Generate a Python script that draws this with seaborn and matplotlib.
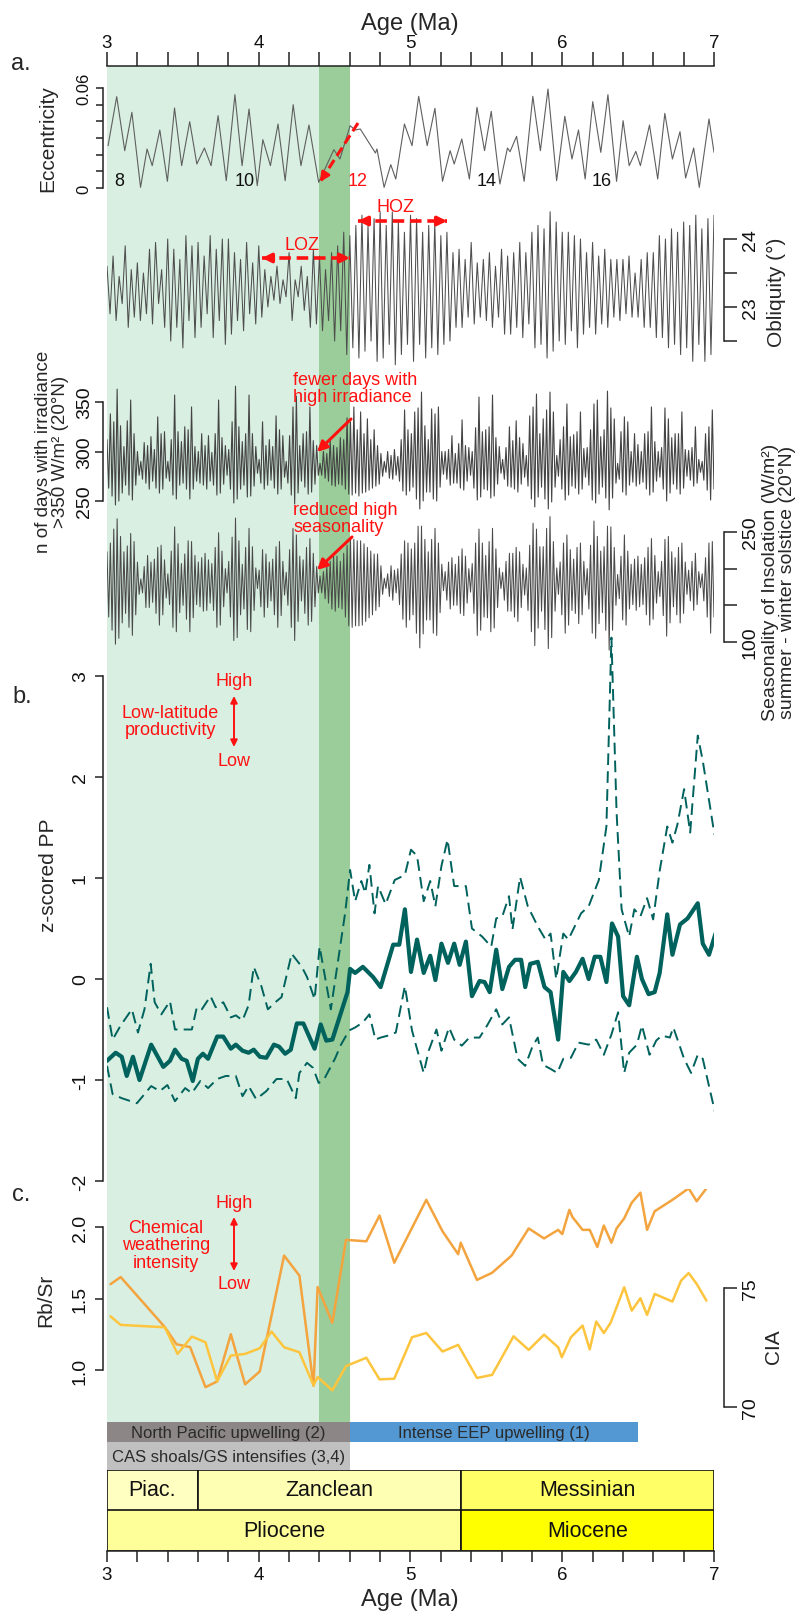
import numpy as np
import pandas as pd
import seaborn as sns
import matplotlib.pyplot as plt
from matplotlib.lines import Line2D
from matplotlib.patches import FancyArrowPatch

# ---------------- data ----------------
# eccentricity (turning points), age in Ma
ecc_age = [3.007, 3.064, 3.117, 3.164, 3.221, 3.264, 3.298, 3.348, 3.398, 3.445, 3.492, 3.545, 3.592, 3.642,
           3.686, 3.732, 3.786, 3.843, 3.890, 3.936, 3.990, 4.027, 4.077, 4.127, 4.174, 4.227, 4.278, 4.331,
           4.395, 4.495, 4.535, 4.602, 4.635, 4.669, 4.769, 4.779, 4.826, 4.870, 4.903, 4.960, 5.010, 5.054,
           5.110, 5.161, 5.211, 5.261, 5.288, 5.338, 5.388, 5.438, 5.488, 5.532, 5.589, 5.639, 5.656, 5.699,
           5.749, 5.806, 5.856, 5.906, 5.963, 6.017, 6.064, 6.107, 6.151, 6.201, 6.254, 6.301, 6.358, 6.401,
           6.441, 6.485, 6.515, 6.575, 6.629, 6.676, 6.726, 6.776, 6.813, 6.866, 6.903, 6.967, 7.000]
ecc_val = [0.0254, 0.0548, 0.0224, 0.0454, 0.0004, 0.0234, 0.0134, 0.0348, 0.0040, 0.0480, 0.0134, 0.0398,
           0.0144, 0.0240, 0.0134, 0.0434, 0.0044, 0.0560, 0.0134, 0.0474, 0.0014, 0.0290, 0.0134, 0.0384,
           0.0044, 0.0500, 0.0134, 0.0378, 0.0034, 0.0230, 0.0174, 0.0374, 0.0348, 0.0354, 0.0210, 0.0234,
           0.0004, 0.0140, 0.0054, 0.0384, 0.0254, 0.0550, 0.0254, 0.0478, 0.0040, 0.0224, 0.0144, 0.0294,
           0.0054, 0.0484, 0.0224, 0.0460, 0.0024, 0.0240, 0.0218, 0.0310, 0.0040, 0.0550, 0.0224, 0.0594,
           0.0044, 0.0430, 0.0174, 0.0348, 0.0054, 0.0518, 0.0214, 0.0560, 0.0040, 0.0404, 0.0134, 0.0220,
           0.0134, 0.0378, 0.0054, 0.0448, 0.0174, 0.0338, 0.0060, 0.0240, 0.0004, 0.0414, 0.0214]
ecc_cycle_age = [3.08, 3.91, 4.65, 5.50, 6.26]
ecc_cycle_lbl = ['8', '10', '12', '14', '16']

# obliquity (deg), peaks and troughs evenly spread from 3 to 7 Ma
obl_val = [23.6, 22.9, 23.75, 22.8, 23.45, 23.05, 23.9, 22.7, 23.55, 22.85,
           23.65, 22.8, 23.5, 22.9, 23.85, 22.75, 23.95, 23.05, 23.55, 22.7,
           24.0, 22.5, 23.85, 22.7, 23.7, 22.4, 24.05, 22.8, 23.9, 22.55,
           23.95, 22.7, 23.75, 22.9, 24.05, 22.55, 23.85, 22.8, 24.0, 22.45,
           24.0, 22.6, 23.8, 22.8, 23.7, 22.65, 23.95, 22.9, 23.65, 22.75,
           23.9, 22.85, 23.55, 23.0, 23.45, 23.1, 23.6, 23.05, 23.4, 23.15,
           23.8, 22.8, 23.4, 23.15, 23.6, 22.95, 23.45, 22.7, 23.85, 22.75,
           23.75, 22.65, 23.55, 22.8, 23.8, 22.5, 23.9, 22.65, 24.1, 22.3,
           24.05, 22.4, 24.2, 22.25, 24.35, 22.35, 24.2, 22.5, 24.3, 22.2,
           24.4, 22.25, 24.2, 22.45, 24.4, 22.15, 24.25, 22.3, 24.1, 22.45,
           24.35, 22.2, 24.3, 22.45, 24.1, 22.25, 24.2, 22.4, 24.25, 22.3,
           24.05, 22.45, 24.1, 22.5, 23.8, 22.7, 23.85, 22.7, 23.7, 22.85,
           23.95, 22.75, 23.65, 22.85, 23.7, 22.8, 23.8, 22.7, 23.6, 22.85,
           23.85, 22.6, 23.75, 22.6, 23.8, 22.7, 23.95, 22.55, 23.8, 22.75,
           24.1, 22.4, 24.2, 22.45, 24.15, 22.25, 24.4, 22.35, 24.25, 22.5,
           24.1, 22.45, 24.1, 22.65, 24.05, 22.4, 24.0, 22.6, 23.8, 22.7,
           23.95, 22.6, 23.75, 22.75, 23.85, 22.7, 23.7, 22.85, 23.7, 22.8,
           23.7, 22.9, 23.75, 22.85, 23.5, 22.85, 23.7, 22.7, 23.8, 22.7,
           23.8, 22.55, 24.05, 22.55, 24.0, 22.4, 24.15, 22.45, 24.1, 22.3,
           24.25, 22.4, 24.2, 22.2, 24.35, 22.45, 24.15, 22.2, 24.3, 22.3,
           24.35]

# n of days with irradiance > 350 W/m2 (20N), peaks/troughs evenly spread 3 -> 7 Ma
irr_val = [312, 263, 338, 255, 330, 246, 363, 250, 326, 258, 305, 266, 331, 256, 352, 251, 318, 266,
           300, 276, 290, 272, 309, 268, 306, 262, 315, 270, 302, 263, 335, 258, 318, 262, 320, 273,
           290, 270, 312, 256, 357, 252, 320, 266, 310, 268, 325, 262, 322, 252, 345, 262, 305, 270,
           300, 268, 318, 266, 306, 262, 316, 270, 299, 266, 318, 256, 352, 258, 314, 267, 306, 276,
           302, 262, 330, 248, 366, 252, 325, 262, 310, 266, 318, 254, 357, 255, 318, 265, 305, 278,
           292, 268, 330, 262, 306, 266, 312, 271, 305, 263, 336, 257, 322, 262, 316, 274, 290, 268,
           316, 256, 345, 247, 356, 258, 306, 270, 318, 264, 320, 257, 345, 259, 311, 267, 306, 276,
           288, 276, 300, 273, 298, 270, 312, 266, 306, 265, 304, 267, 314, 266, 312, 262, 334, 257,
           330, 256, 345, 258, 322, 255, 340, 258, 318, 259, 333, 261, 312, 263, 322, 265, 306, 267,
           298, 275, 290, 279, 300, 273, 296, 272, 302, 276, 295, 270, 312, 260, 342, 256, 322, 260,
           318, 264, 340, 252, 344, 242, 360, 250, 326, 259, 312, 259, 343, 252, 338, 250, 345, 264,
           300, 277, 300, 272, 302, 266, 316, 268, 298, 268, 308, 263, 332, 261, 306, 270, 304, 276,
           300, 263, 324, 251, 355, 254, 320, 262, 322, 261, 325, 253, 357, 255, 314, 267, 305, 278,
           292, 272, 304, 265, 325, 264, 311, 262, 331, 259, 314, 267, 308, 274, 296, 265, 336, 252,
           345, 244, 358, 254, 318, 264, 333, 252, 342, 242, 360, 249, 340, 264, 296, 275, 312, 262,
           325, 251, 348, 256, 315, 265, 317, 263, 320, 257, 340, 262, 303, 274, 304, 266, 322, 251,
           348, 248, 352, 257, 315, 264, 322, 253, 361, 241, 344, 253, 333, 268, 288, 272, 320, 259,
           335, 256, 330, 266, 300, 269, 318, 265, 307, 267, 300, 269, 318, 262, 320, 256, 345, 259,
           310, 270, 300, 274, 304, 262, 344, 250, 333, 258, 314, 267, 318, 262, 318, 257, 340, 263,
           302, 275, 301, 271, 304, 265, 325, 268, 292, 279, 290, 271, 318, 261, 325, 251, 342, 262]

# seasonality of insolation, summer - winter solstice (W/m2, 20N)
seas_val = [223, 134, 235, 116, 254, 97, 268, 105, 244, 126, 223, 139, 231, 120, 248, 109, 237, 137,
            209, 165, 186, 167, 203, 147, 218, 147, 209, 154, 213, 139, 229, 123, 232, 137, 212, 160,
            193, 151, 224, 120, 257, 114, 234, 140, 207, 150, 220, 131, 238, 114, 237, 133, 218, 151,
            209, 148, 215, 142, 221, 143, 212, 153, 207, 143, 229, 120, 249, 123, 224, 148, 200, 167,
            210, 134, 243, 102, 269, 106, 238, 137, 206, 145, 229, 117, 255, 114, 230, 143, 201, 173,
            198, 148, 226, 134, 220, 147, 209, 156, 213, 137, 230, 120, 237, 136, 210, 164, 195, 150,
            226, 120, 255, 102, 246, 128, 217, 156, 212, 139, 229, 123, 241, 128, 221, 148, 203, 167,
            190, 167, 196, 159, 204, 153, 210, 145, 218, 142, 217, 147, 210, 145, 221, 134, 232, 122,
            241, 120, 240, 122, 238, 122, 238, 123, 234, 128, 229, 133, 224, 137, 220, 143, 220, 148,
            204, 165, 187, 173, 193, 162, 204, 157, 198, 167, 200, 151, 220, 131, 238, 120, 235, 130,
            227, 137, 235, 112, 258, 92, 258, 111, 240, 130, 223, 130, 240, 112, 255, 109, 235, 140,
            206, 170, 196, 157, 209, 145, 215, 150, 206, 150, 217, 139, 227, 136, 217, 153, 200, 168,
            207, 139, 235, 109, 254, 116, 235, 134, 218, 133, 237, 114, 255, 119, 227, 147, 201, 173,
            195, 157, 210, 142, 221, 142, 221, 134, 229, 128, 223, 147, 206, 164, 201, 143, 232, 114,
            262, 95, 254, 119, 230, 142, 230, 117, 255, 91, 271, 106, 237, 142, 201, 165, 209, 137,
            235, 112, 246, 123, 226, 143, 213, 139, 229, 125, 235, 137, 210, 164, 200, 145, 232, 112,
            265, 105, 244, 125, 224, 140, 230, 116, 258, 89, 257, 116, 229, 150, 192, 159, 217, 130,
            246, 123, 224, 145, 206, 151, 213, 143, 217, 148, 206, 151, 215, 137, 229, 123, 241, 131,
            218, 153, 196, 162, 210, 136, 240, 108, 244, 126, 223, 148, 215, 137, 229, 126, 235, 139,
            209, 165, 198, 156, 210, 143, 221, 151, 196, 174, 193, 156, 215, 134, 235, 112, 237, 134]

# z-scored productivity: median and envelope
pp_age = [3.000, 3.057, 3.097, 3.130, 3.171, 3.214, 3.291, 3.371, 3.415, 3.448, 3.492, 3.525, 3.565, 3.599,
          3.632, 3.666, 3.726, 3.766, 3.816, 3.849, 3.893, 3.933, 3.967, 4.007, 4.050, 4.100, 4.134, 4.174,
          4.211, 4.251, 4.294, 4.368, 4.408, 4.445, 4.485, 4.585, 4.602, 4.635, 4.686, 4.753, 4.803, 4.886,
          4.926, 4.963, 5.003, 5.043, 5.087, 5.130, 5.164, 5.204, 5.247, 5.288, 5.324, 5.365, 5.405, 5.455,
          5.488, 5.522, 5.565, 5.605, 5.649, 5.689, 5.729, 5.756, 5.789, 5.839, 5.883, 5.923, 5.973, 6.007,
          6.047, 6.090, 6.134, 6.174, 6.214, 6.251, 6.291, 6.328, 6.368, 6.401, 6.441, 6.492, 6.525, 6.569,
          6.609, 6.642, 6.692, 6.726, 6.776, 6.826, 6.893, 6.926, 6.967, 7.010]
pp_mid = [-0.81, -0.73, -0.77, -0.96, -0.77, -1.00, -0.65, -0.87, -0.81, -0.70, -0.79, -0.81, -1.01, -0.79,
          -0.74, -0.79, -0.57, -0.57, -0.69, -0.65, -0.71, -0.73, -0.70, -0.77, -0.78, -0.65, -0.67, -0.74,
          -0.70, -0.44, -0.44, -0.69, -0.45, -0.61, -0.60, -0.13, 0.10, 0.06, 0.12, 0.02, -0.08, 0.34,
          0.34, 0.69, 0.07, 0.39, 0.06, 0.23, -0.01, 0.35, 0.16, 0.35, 0.14, 0.37, -0.17, -0.02,
          -0.03, -0.13, 0.29, -0.10, 0.12, 0.19, 0.19, -0.08, 0.15, 0.17, -0.08, -0.13, -0.60, 0.07,
          -0.02, 0.07, 0.20, 0.00, 0.22, 0.22, -0.03, 0.55, 0.42, -0.17, -0.26, 0.22, 0.00, -0.15,
          -0.13, 0.06, 0.64, 0.24, 0.54, 0.60, 0.75, 0.35, 0.24, 0.45]
pp_hi_age = [3.000, 3.037, 3.090, 3.164, 3.204, 3.247, 3.288, 3.314, 3.358, 3.415, 3.448, 3.559, 3.592, 3.625,
             3.682, 3.716, 3.766, 3.816, 3.849, 3.893, 3.933, 3.967, 4.017, 4.060, 4.117, 4.150, 4.217, 4.284,
             4.318, 4.368, 4.401, 4.475, 4.569, 4.602, 4.635, 4.676, 4.702, 4.729, 4.763, 4.786, 4.836, 4.896,
             4.963, 5.003, 5.043, 5.087, 5.130, 5.164, 5.204, 5.244, 5.288, 5.365, 5.405, 5.472, 5.532, 5.565,
             5.605, 5.649, 5.672, 5.722, 5.773, 5.839, 5.890, 5.923, 5.960, 6.007, 6.040, 6.124, 6.174, 6.241,
             6.291, 6.324, 6.358, 6.391, 6.441, 6.475, 6.515, 6.559, 6.599, 6.642, 6.692, 6.726, 6.759, 6.803,
             6.843, 6.893, 6.926, 7.003]
pp_hi = [-0.28, -0.60, -0.46, -0.30, -0.53, -0.30, 0.15, -0.23, -0.35, -0.22, -0.50, -0.50, -0.28, -0.30,
         -0.17, -0.28, -0.23, -0.38, -0.36, -0.41, -0.26, 0.12, -0.07, -0.30, -0.22, -0.18, 0.25, 0.12,
         0.02, -0.20, 0.32, -0.30, 0.65, 1.08, 0.77, 0.97, 0.85, 1.13, 0.65, 0.92, 0.74, 0.98,
         1.03, 1.28, 1.22, 0.77, 0.97, 0.72, 1.12, 1.38, 0.92, 0.92, 0.50, 0.42, 0.32, 0.60,
         0.62, 0.82, 0.49, 1.01, 0.72, 0.52, 0.39, 0.45, 0.00, 0.45, 0.39, 0.65, 0.72, 0.98,
         1.51, 3.38, 1.65, 0.69, 0.42, 0.69, 0.62, 0.80, 0.59, 1.07, 1.51, 1.35, 1.53, 1.88,
         1.45, 2.41, 2.16, 1.43]
pp_lo_age = [3.000, 3.037, 3.097, 3.197, 3.247, 3.291, 3.348, 3.398, 3.448, 3.515, 3.559, 3.615, 3.666, 3.726,
             3.783, 3.849, 3.893, 3.933, 3.983, 4.050, 4.117, 4.184, 4.244, 4.268, 4.318, 4.358, 4.395, 4.435,
             4.502, 4.542, 4.595, 4.635, 4.686, 4.729, 4.769, 4.803, 4.853, 4.903, 4.963, 5.010, 5.037, 5.087,
             5.120, 5.171, 5.204, 5.254, 5.288, 5.338, 5.388, 5.455, 5.505, 5.565, 5.605, 5.649, 5.706, 5.756,
             5.806, 5.839, 5.873, 5.923, 5.967, 6.007, 6.057, 6.107, 6.174, 6.224, 6.274, 6.324, 6.368, 6.408,
             6.441, 6.492, 6.525, 6.575, 6.619, 6.656, 6.709, 6.732, 6.803, 6.849, 6.893, 6.926, 6.967, 7.010]
pp_lo = [-0.86, -1.14, -1.18, -1.23, -1.14, -1.06, -1.11, -1.05, -1.21, -1.08, -1.13, -1.01, -1.08, -0.99,
         -0.96, -0.96, -1.16, -1.06, -1.19, -1.11, -0.99, -0.99, -1.18, -0.93, -0.83, -0.88, -1.03, -0.98,
         -0.79, -0.65, -0.51, -0.48, -0.43, -0.35, -0.60, -0.58, -0.56, -0.53, -0.07, -0.51, -0.66, -0.93,
         -0.71, -0.50, -0.71, -0.48, -0.60, -0.66, -0.58, -0.58, -0.46, -0.30, -0.45, -0.38, -0.79, -0.86,
         -0.66, -0.58, -0.85, -0.89, -0.93, -0.79, -0.78, -0.63, -0.65, -0.60, -0.75, -0.55, -0.33, -0.93,
         -0.73, -0.65, -0.46, -0.75, -0.61, -0.56, -0.58, -0.48, -0.79, -0.93, -0.75, -0.79, -1.06, -1.34]

# chemical weathering
rbsr_age = [3.023, 3.090, 3.381, 3.458, 3.548, 3.649, 3.726, 3.816, 3.910, 4.007, 4.167, 4.268, 4.361, 4.388,
            4.485, 4.575, 4.709, 4.796, 4.893, 5.104, 5.211, 5.314, 5.331, 5.438, 5.538, 5.666, 5.779, 5.880,
            5.973, 6.000, 6.047, 6.067, 6.134, 6.181, 6.231, 6.274, 6.324, 6.358, 6.408, 6.458, 6.515, 6.559,
            6.609, 6.726, 6.833, 6.886, 6.950]
rbsr = [1.60, 1.65, 1.30, 1.18, 1.16, 0.88, 0.92, 1.25, 0.90, 0.99, 1.80, 1.66, 0.89, 1.58,
        1.33, 1.91, 1.90, 2.08, 1.75, 2.19, 1.97, 1.81, 1.89, 1.63, 1.68, 1.80, 1.99, 1.92,
        1.98, 1.95, 2.12, 2.07, 1.98, 1.98, 1.86, 2.01, 1.89, 1.99, 2.06, 2.17, 2.24, 1.98,
        2.11, 2.19, 2.27, 2.18, 2.27]
cia_age = [3.023, 3.090, 3.381, 3.465, 3.559, 3.649, 3.726, 3.816, 3.910, 4.007, 4.084, 4.167, 4.268, 4.361,
           4.388, 4.485, 4.575, 4.709, 4.796, 4.893, 5.010, 5.104, 5.211, 5.314, 5.438, 5.538, 5.679, 5.779,
           5.880, 5.973, 5.997, 6.057, 6.134, 6.181, 6.224, 6.274, 6.318, 6.358, 6.408, 6.458, 6.515, 6.559,
           6.609, 6.726, 6.783, 6.833, 6.886, 6.950]
cia = [73.81, 73.45, 73.35, 72.23, 72.96, 72.72, 71.08, 72.16, 72.23, 72.47, 73.17, 72.51, 72.30, 70.91,
       71.26, 70.70, 71.72, 72.07, 71.16, 71.19, 72.93, 73.11, 72.33, 72.61, 71.22, 71.35, 72.97, 72.40,
       73.04, 72.51, 72.09, 72.93, 73.42, 72.42, 73.59, 73.11, 73.53, 74.19, 75.03, 74.05, 74.57, 73.87,
       74.75, 74.43, 75.31, 75.63, 75.17, 74.47]

# events and time scale
event_lbl = ['North Pacific upwelling (2)', 'Intense EEP upwelling (1)', 'CAS shoals/GS intensifies (3,4)']
event_start = [3.0, 4.6, 3.0]
event_end = [4.6, 6.5, 4.6]
stage_lbl = ['Piac.', 'Zanclean', 'Messinian']
stage_start = [3.0, 3.6, 5.333]
stage_end = [3.6, 5.333, 7.0]
epoch_lbl = ['Pliocene', 'Miocene']
epoch_start = [3.0, 5.333]
epoch_end = [5.333, 7.0]

# ---------------- style ----------------
sns.set_theme(style='white')
plt.rcParams['font.family'] = ['Liberation Sans', 'DejaVu Sans']

W, H = 796, 1615
X0, X1 = 107, 714
INK = '#222222'
GREY = '#4e4e4e'
TEAL = '#00625d'
RED = '#ff1111'
LIGHT = '#d9efe2'
DARK = '#9acd99'

fig = plt.figure(figsize=(W / 100, H / 100), dpi=100)


def fx(px):
    return px / W


def fy(py):
    return 1 - py / H


def panel(top, bot, ref_a, ref_b):
    # axes over pixel rows top..bot, value scale fixed by two (pixel, value) pairs
    (pa, va), (pb, vb) = ref_a, ref_b
    k = (vb - va) / (pb - pa)
    ax = fig.add_axes([fx(X0), fy(bot), (X1 - X0) / W, (bot - top) / H])
    ax._lims = (va + (bot - pa) * k, va + (top - pa) * k)
    return ax


def finish(ax):
    ax.set_xlim(3, 7)
    ax.set_ylim(*ax._lims)
    ax.patch.set_visible(False)
    for s in ax.spines.values():
        s.set_visible(False)
    ax.set_xticks([])
    ax.set_yticks([])
    ax.set_xlabel('')
    ax.set_ylabel('')


def yaxis(ax, side, lo, hi, ticks, labels, size=13, pad=3, length=6):
    sp = ax.spines[side]
    sp.set_visible(True)
    sp.set_bounds(lo, hi)
    sp.set_position(('outward', 3 if side == 'left' else 7))
    sp.set_color(INK)
    sp.set_linewidth(1.1)
    ax.yaxis.set_ticks_position(side)
    ax.set_yticks(ticks)
    ax.set_yticklabels(labels)
    ax.tick_params(axis='y', length=length, width=1.1, color=INK, pad=pad,
                   labelsize=size, labelrotation=90, labelcolor='#111111')
    for t in ax.get_yticklabels():
        t.set_va('center')


def ftext(x, y, s, **kw):
    kw.setdefault('ha', 'center')
    kw.setdefault('va', 'center')
    fig.text(fx(x), fy(y), s, **kw)


def arrow(x0, y0, x1, y1, style='-|>', lw=2.0, ms=14):
    fig.add_artist(FancyArrowPatch((fx(x0), fy(y0)), (fx(x1), fy(y1)), transform=fig.transFigure,
                                   arrowstyle=style, mutation_scale=ms, color=RED, lw=lw,
                                   shrinkA=0, shrinkB=0))


def dashed_arrow(x0, y0, x1, y1, both=False, lw=2.6):
    fig.add_artist(Line2D([fx(x0), fx(x1)], [fy(y0), fy(y1)], transform=fig.transFigure,
                          color=RED, lw=lw, ls=(0, (3.2, 1.6))))
    d = np.hypot(x1 - x0, y1 - y0)
    ux, uy = (x1 - x0) / d, (y1 - y0) / d
    arrow(x1 - 10 * ux, y1 - 10 * uy, x1, y1, lw=lw, ms=13)
    if both:
        arrow(x0 + 10 * ux, y0 + 10 * uy, x0, y0, lw=lw, ms=13)


# ---------------- background: shading + top age axis ----------------
bg = fig.add_axes([fx(X0), fy(1471), (X1 - X0) / W, (1471 - 67) / H])
bg.axvspan(3.0, 4.4, color=LIGHT, lw=0)
bg.axvspan(4.4, 4.6, color=DARK, lw=0)
bg.set_xlim(3, 7)
bg.set_ylim(0, 1)
bg.patch.set_visible(False)
for k in ('left', 'right', 'bottom'):
    bg.spines[k].set_visible(False)
bg.spines['top'].set_color(INK)
bg.spines['top'].set_linewidth(1.1)
bg.xaxis.set_ticks_position('top')
bg.set_xticks([3, 4, 5, 6, 7])
bg.set_xticks(np.arange(3, 7.01, 0.2), minor=True)
bg.tick_params(axis='x', which='both', length=10, width=1.1, color=INK, pad=1,
               labelsize=13.5, labelcolor='#111111')
bg.set_yticks([])
ftext(410, 24, 'Age (Ma)', fontsize=17)

# ---------------- a. orbital parameters ----------------
ax_e = panel(70, 205, (189, 0.0), (89, 0.06))
sns.lineplot(x=ecc_age, y=ecc_val, ax=ax_e, color='#5f5f5f', lw=0.8)
finish(ax_e)
yaxis(ax_e, 'left', 0, 0.06, np.arange(0, 0.061, 0.01), ['0', '', '', '', '', '', '0.06'], size=12, length=5)
for a, s in zip(ecc_cycle_age, ecc_cycle_lbl):
    ax_e.text(a, 0.0042, s, ha='center', va='center', fontsize=13,
              color=RED if s == '12' else '#111111')

obl_age = np.linspace(3, 7, len(obl_val))
ax_o = panel(200, 370, (240, 24.0), (308, 23.0))
sns.lineplot(x=obl_age, y=obl_val, ax=ax_o, color=GREY, lw=0.75)
finish(ax_o)
yaxis(ax_o, 'right', 22.5, 24, [22.5, 23, 23.5, 24], ['', '23', '', '24'], size=14, length=9, pad=4)

irr_age = np.linspace(3, 7, len(irr_val))
ax_i = panel(370, 530, (403, 350), (502, 250))
sns.lineplot(x=irr_age, y=irr_val, ax=ax_i, color='#444444', lw=0.8)
finish(ax_i)
yaxis(ax_i, 'left', 250, 350, [250, 300, 350], ['250', '300', '350'], size=14, pad=1, length=6)

seas_age = np.linspace(3, 7, len(seas_val))
ax_s = panel(515, 690, (533, 250), (643, 100))
sns.lineplot(x=seas_age, y=seas_val, ax=ax_s, color='#4a4a4a', lw=0.75)
finish(ax_s)
yaxis(ax_s, 'right', 100, 250, [100, 150, 200, 250], ['100', '', '', '250'], size=14, length=9, pad=4)

# ---------------- b. productivity ----------------
ax_b = panel(620, 1200, (677, 3.0), (1182, -2.0))
sns.lineplot(x=pp_hi_age, y=pp_hi, ax=ax_b, color=TEAL, lw=1.4, ls=(0, (6, 3.2)))
sns.lineplot(x=pp_lo_age, y=pp_lo, ax=ax_b, color=TEAL, lw=1.4, ls=(0, (6, 3.2)))
sns.lineplot(x=pp_age, y=pp_mid, ax=ax_b, color=TEAL, lw=3.0)
finish(ax_b)
yaxis(ax_b, 'left', -2, 3, [-2, -1, 0, 1, 2, 3], ['-2', '-1', '0', '1', '2', '3'], size=14, pad=4)

# ---------------- c. weathering ----------------
ax_r = panel(1190, 1420, (1228, 2.0), (1371, 1.0))
sns.lineplot(x=rbsr_age, y=rbsr, ax=ax_r, color='#f3a43f', lw=1.8)
finish(ax_r)
yaxis(ax_r, 'left', 1.0, 2.0, [1.0, 1.5, 2.0], ['1.0', '1.5', '2.0'], size=14, pad=4)

ax_c = panel(1190, 1420, (1289, 75.0), (1408, 70.0))
sns.lineplot(x=cia_age, y=cia, ax=ax_c, color='#fdc53e', lw=1.8)
finish(ax_c)
yaxis(ax_c, 'right', 70, 75, [70, 75], ['70', '75'], size=14, length=9, pad=4)

# ---------------- event bars and time scale ----------------
def band(top, bot):
    ax = fig.add_axes([fx(X0), fy(bot), (X1 - X0) / W, (bot - top) / H])
    ax.set_xlim(3, 7)
    ax.set_ylim(0, 1)
    ax.patch.set_visible(False)
    for s in ax.spines.values():
        s.set_visible(False)
    ax.set_xticks([])
    ax.set_yticks([])
    return ax


event_color = ['#8c8686', '#5398d2', '#c0c0c0']
b_up = band(1423, 1443)
b_cas = band(1443, 1471)
for i, (s, e, lbl) in enumerate(zip(event_start, event_end, event_lbl)):
    ax = b_up if i < 2 else b_cas
    ax.barh(0.5, e - s, left=s, height=1, color=event_color[i], lw=0)
    ax.text((s + e) / 2, 0.48, lbl, ha='center', va='center', fontsize=12, color='#2a2a2a')

stage_color = ['#ffffc2', '#ffffb4', '#ffff66']
b_st = band(1471, 1511)
for s, e, lbl, c in zip(stage_start, stage_end, stage_lbl, stage_color):
    b_st.barh(0.5, e - s, left=s, height=1, color=c, edgecolor='#111111', lw=1.2)
    b_st.text((s + e) / 2, 0.5, lbl, ha='center', va='center', fontsize=15.5, color='#111111')

epoch_color = ['#ffff99', '#ffff00']
b_ep = band(1511, 1552)
for s, e, lbl, c in zip(epoch_start, epoch_end, epoch_lbl, epoch_color):
    b_ep.barh(0.5, e - s, left=s, height=1, color=c, edgecolor='#111111', lw=1.2)
    b_ep.text((s + e) / 2, 0.5, lbl, ha='center', va='center', fontsize=15.5, color='#111111')
b_ep.spines['bottom'].set_visible(True)
b_ep.spines['bottom'].set_color(INK)
b_ep.spines['bottom'].set_linewidth(1.1)
b_ep.set_xticks([3, 4, 5, 6, 7])
b_ep.set_xticks(np.arange(3, 7.01, 0.2), minor=True)
b_ep.tick_params(axis='x', which='both', bottom=True, length=8, width=1.1, color=INK, pad=3,
                 labelsize=13.5, labelcolor='#111111')
ftext(410, 1600, 'Age (Ma)', fontsize=17)

# ---------------- labels and annotations ----------------
ftext(21, 64, 'a.', fontsize=17)
ftext(22, 697, 'b.', fontsize=17)
ftext(21, 1195, 'c.', fontsize=17)

ftext(48, 139, 'Eccentricity', rotation=90, fontsize=15)
ftext(776, 292, 'Obliquity (°)', rotation=90, fontsize=15)
ftext(52, 452, 'n of days with irradiance\n>350 W/m² (20°N)', rotation=90, fontsize=13.5,
      linespacing=1.0)
ftext(779, 582, 'Seasonality of Insolation (W/m²)\nsummer - winter solstice (20°N)', rotation=90,
      fontsize=14, linespacing=0.95)
ftext(48, 875, 'z-scored PP', rotation=90, fontsize=15)
ftext(46, 1300, 'Rb/Sr', rotation=90, fontsize=15)
ftext(774, 1347, 'CIA', rotation=90, fontsize=15)

# eccentricity node arrow
dashed_arrow(358, 124, 320, 183, lw=2.2)
# obliquity zones
dashed_arrow(358, 222, 447, 222, both=True)
ftext(396, 208, 'HOZ', fontsize=13, color=RED)
dashed_arrow(262, 259, 350, 259, both=True)
ftext(302, 245, 'LOZ', fontsize=13, color=RED)

ftext(293, 389, 'fewer days with\nhigh irradiance', ha='left', fontsize=13, color=RED, linespacing=1.05)
arrow(351, 420, 317, 453, lw=2.2, ms=15)
ftext(293, 519, 'reduced high\nseasonality', ha='left', fontsize=13, color=RED, linespacing=1.05)
arrow(352, 538, 317, 571, lw=2.2, ms=15)

ftext(234, 682, 'High', fontsize=13, color=RED)
ftext(170, 722, 'Low-latitude\nproductivity', fontsize=13, color=RED, linespacing=1.05)
ftext(234, 761, 'Low', fontsize=13, color=RED)
arrow(234, 697, 234, 748, style='<|-|>', lw=1.4, ms=10)

ftext(234, 1203, 'High', fontsize=13, color=RED)
ftext(166, 1246, 'Chemical\nweathering\nintensity', fontsize=13, color=RED, linespacing=1.05)
ftext(234, 1285, 'Low', fontsize=13, color=RED)
arrow(234, 1218, 234, 1272, style='<|-|>', lw=1.4, ms=10)

fig.savefig('out.png', dpi=100)
